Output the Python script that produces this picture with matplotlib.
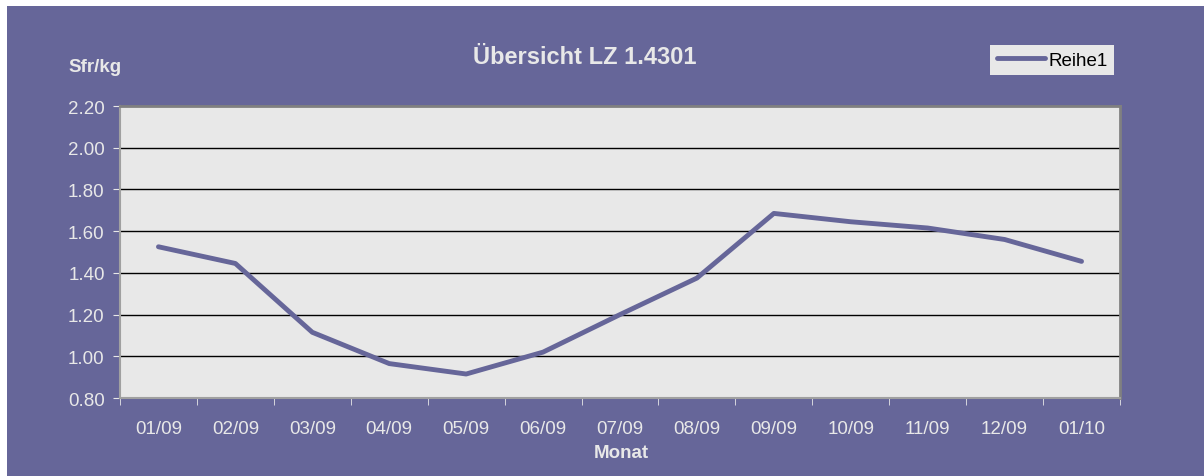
import numpy as np
import matplotlib.pyplot as plt
from matplotlib.patches import Rectangle

plt.rcParams['font.family'] = ['Liberation Sans', 'DejaVu Sans']

# Daten
monate = ['01/09', '02/09', '03/09', '04/09', '05/09', '06/09', '07/09',
          '08/09', '09/09', '10/09', '11/09', '12/09', '01/10']
preise = [1.525, 1.445, 1.115, 0.965, 0.915, 1.02, 1.20,
          1.375, 1.685, 1.645, 1.615, 1.56, 1.455]
y_ticks = [0.80, 1.00, 1.20, 1.40, 1.60, 1.80, 2.00, 2.20]

lila = '#666699'
hell = '#E8E8E8'
fs = 13.5

fig = plt.figure(figsize=(12.04, 4.77), dpi=100)
fig.patch.set_facecolor('white')
# lila Hintergrund mit kleinem weissen Rand oben/links
fig.patches.append(Rectangle((7 / 1204, 0), 1 - 7 / 1204, 1 - 7 / 477,
                             transform=fig.transFigure, facecolor=lila,
                             edgecolor='none', zorder=-10))

ax = fig.add_axes([120 / 1204, 1 - 399 / 477, 1000 / 1204, 292 / 477])
ax.set_facecolor(hell)

x = np.arange(len(monate))
ax.plot(x, preise, color=lila, lw=3.5, solid_capstyle='round', label='Reihe1', zorder=3)

ax.set_xlim(-0.5, len(monate) - 0.5)
ax.set_ylim(0.80, 2.20)
ax.set_yticks(y_ticks)
ax.set_yticklabels(['{:.2f}'.format(v) for v in y_ticks])
ax.set_xticks(x)
ax.set_xticklabels(monate)
ax.set_xticks(np.arange(-0.5, len(monate), 1), minor=True)

for v in y_ticks[1:-1]:
    ax.axhline(v, color='black', lw=1, zorder=1)

ax.tick_params(axis='x', which='major', length=0, pad=16, colors=hell, labelsize=fs)
ax.tick_params(axis='x', which='minor', length=5, color=hell, direction='out')
ax.tick_params(axis='y', length=5, color=hell, colors=hell, labelsize=fs, pad=6)

for s in ['left', 'bottom']:
    ax.spines[s].set_color('#A0A0A0')
    ax.spines[s].set_linewidth(1.5)
for s in ['top', 'right']:
    ax.spines[s].set_color('#808080')
    ax.spines[s].set_linewidth(2)

fig.text(585 / 1204, 1 - 58 / 477, 'Übersicht LZ 1.4301', ha='center', va='center',
         fontsize=17, fontweight='bold', color=hell)
fig.text(68 / 1204, 1 - 68 / 477, 'Sfr/kg', ha='left', va='center',
         fontsize=fs, fontweight='bold', color=hell)
fig.text(621 / 1204, 1 - 454 / 477, 'Monat', ha='center', va='center',
         fontsize=fs, fontweight='bold', color=hell)

leg = fig.legend(loc='center', bbox_to_anchor=(1052 / 1204, 1 - 61 / 477),
                 frameon=True, fancybox=False, fontsize=fs, handlelength=2.6,
                 handletextpad=0.15, borderpad=0.35, borderaxespad=0)
leg.get_frame().set_facecolor(hell)
leg.get_frame().set_edgecolor('none')
leg.get_frame().set_alpha(1)

plt.savefig('out.png', dpi=100)
